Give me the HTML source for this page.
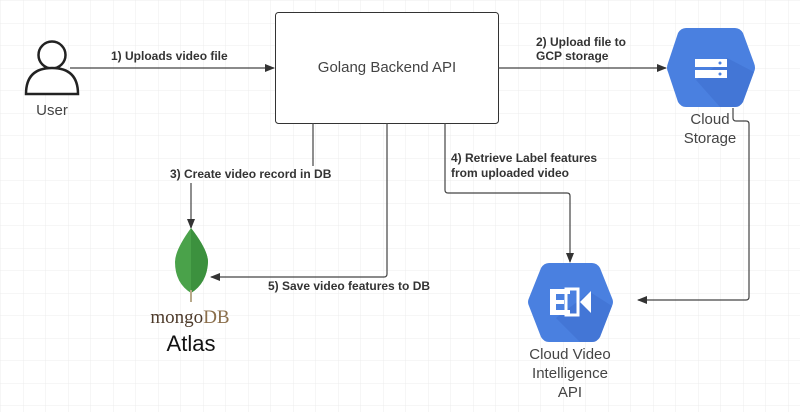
<!DOCTYPE html>
<html><head><style>
body{margin:0;width:800px;height:412px;overflow:hidden;background:#fff;}
svg{display:block;font-family:"Liberation Sans",sans-serif;}
.l{font-size:12px;font-weight:bold;fill:#333;}
.n{font-size:15px;fill:#444;}
</style></head><body>
<svg width="800" height="412" viewBox="0 0 800 412">
<defs>
<pattern id="g" width="22.5" height="22.5" patternUnits="userSpaceOnUse" x="1" y="1">
<path d="M22.5 0V22.5H0" fill="none" stroke="#ececec" stroke-width="1"/>
</pattern>
<marker id="a" markerWidth="10" markerHeight="8" refX="9" refY="4" orient="auto" markerUnits="userSpaceOnUse">
<path d="M0 0L10 4L0 8Z" fill="#333"/>
</marker>
</defs>
<rect width="800" height="412" fill="url(#g)"/>
<!-- box -->
<rect x="275.5" y="12.5" width="223" height="111" rx="3" fill="#fff" stroke="#333" stroke-width="1"/>
<text x="387" y="72" text-anchor="middle" class="n">Golang Backend API</text>
<!-- user -->
<circle cx="52" cy="55" r="13.5" fill="#fff" stroke="#222" stroke-width="2.5"/>
<path d="M26 94 Q26 68 52 68 Q78 68 78 94 Z" fill="#fff" stroke="#222" stroke-width="2.5"/>
<text x="52" y="115" text-anchor="middle" class="n">User</text>
<!-- arrows -->
<g stroke="#444" stroke-width="1.2" fill="none">
<path d="M70 68H274" marker-end="url(#a)"/>
<path d="M498 68H666" marker-end="url(#a)"/>
<path d="M313 123V166"/>
<path d="M191 183V228" marker-end="url(#a)"/>
<path d="M387 123V274Q387 277 384 277H211" marker-end="url(#a)"/>
<path d="M445 123V190Q445 193 448 193H567Q570 193 570 196V262" marker-end="url(#a)"/>
<path d="M733 108V118Q733 121 736 121H746Q749 121 749 124V297Q749 300 746 300H638" marker-end="url(#a)"/>
</g>
<text x="111" y="60" class="l">1) Uploads video file</text>
<text x="536" y="46" class="l">2) Upload file to</text>
<text x="536" y="60" class="l">GCP storage</text>
<text x="170" y="178" class="l">3) Create video record in DB</text>
<text x="451" y="162" class="l">4) Retrieve Label features</text>
<text x="451" y="177" class="l">from uploaded video</text>
<text x="268" y="290" class="l">5) Save video features to DB</text>
<!-- storage hex -->
<path d="M686 28H735Q740 28 743 33L754 63Q756 68 754 72L743 102Q740 107 735 107H686Q681 107 678 102L668 72Q666 68 668 63L678 33Q681 28 686 28Z" fill="#4a80e0"/>
<path d="M727 58L754 72L743 102Q740 107 735 107H720L696 80Z" fill="#3f6fcf" opacity="0.6"/>
<rect x="695" y="59" width="32" height="8" fill="#fff"/>
<rect x="695" y="70" width="32" height="8" fill="#fff"/>
<circle cx="720" cy="63" r="1.5" fill="#4a80e0"/><circle cx="720" cy="74" r="1.5" fill="#4a80e0"/>
<text x="710" y="124" text-anchor="middle" class="n">Cloud</text>
<text x="710" y="143" text-anchor="middle" class="n">Storage</text>
<!-- video hex -->
<path d="M549 263H592Q597 263 600 268L612 298Q614 302 612 306L600 337Q597 342 592 342H549Q544 342 541 337L529 306Q527 302 529 298L541 268Q544 263 549 263Z" fill="#4a80e0"/>
<path d="M590 292L612 306L600 337Q597 342 592 342H580L556 318Z" fill="#3f6fcf" opacity="0.6"/>
<g fill="#fff">
<rect x="550" y="289" width="6" height="26"/>
<rect x="556" y="289" width="14" height="5"/>
<rect x="556" y="310" width="14" height="5"/>
<rect x="566" y="289" width="12" height="26" fill="none" stroke="#fff" stroke-width="3"/>
<path d="M580 302L591 291V313Z"/>
<rect x="554" y="300" width="10" height="4"/>
</g>
<text x="570" y="359" text-anchor="middle" class="n">Cloud Video</text>
<text x="570" y="378" text-anchor="middle" class="n">Intelligence</text>
<text x="570" y="397" text-anchor="middle" class="n">API</text>
<!-- mongo leaf -->
<path d="M191 228Q175 250 175 262Q175 283 191 293Q207 283 208 262Q208 250 191 228Z" fill="#4aa24a"/>
<path d="M191 228Q208 250 208 262Q207 283 191 293Z" fill="#3c913e"/>
<path d="M191 290V302" stroke="#b8a98a" stroke-width="2"/>
<text x="190" y="323" text-anchor="middle" style="font-family:'Liberation Serif',serif;font-size:19px;fill:#4d3a2a;">mongo<tspan fill="#8a6e4b">DB</tspan></text>
<text x="191" y="351" text-anchor="middle" style="font-size:22px;fill:#111;">Atlas</text>
</svg>
</body></html>
